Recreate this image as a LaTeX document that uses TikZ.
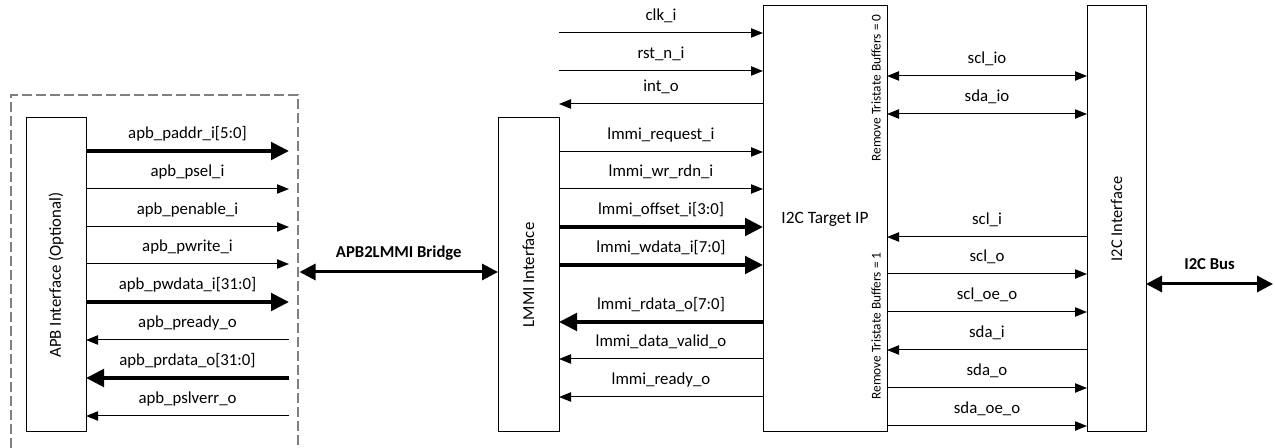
\documentclass[tikz,border=0pt]{standalone}
\usepackage{fontspec}
\setmainfont{Carlito}
\usetikzlibrary{arrows.meta}
\begin{document}
\begin{tikzpicture}[x=0.75pt,y=-0.75pt,
  every node/.style={font=\fontsize{12.6}{14}\selectfont, inner sep=0pt, outer sep=0pt},
  box/.style={draw, line width=0.75pt, rectangle, inner sep=0pt, outer sep=0pt},
  lbl/.style={anchor=base, yshift=9.5pt},
  small/.style={font=\fontsize{10}{12}\selectfont},
  boldlbl/.style={font=\fontsize{12.5}{14}\selectfont\bfseries},
  sigR/.style={-{Triangle[length=9pt,width=7pt]}, line width=0.75pt},
  sigL/.style={{Triangle[length=9pt,width=7pt]}-, line width=0.75pt},
  sigB/.style={{Triangle[length=9pt,width=7pt]}-{Triangle[length=9pt,width=7pt]}, line width=0.75pt},
  busR/.style={-{Triangle[length=13.5pt,width=13pt]}, line width=3pt},
  busL/.style={{Triangle[length=13.5pt,width=13pt]}-, line width=3pt},
  bridge/.style={{Triangle[length=12pt,width=12pt]}-{Triangle[length=12pt,width=12pt]}, line width=2.25pt},
  optbox/.style={draw=black!50, line width=1.1pt, dash pattern=on 7.5pt off 3pt}
]
\useasboundingbox (0,0) rectangle (1275,448);

% dashed optional region (open at the bottom)
\draw[optbox] (11,448) -- (11,95) -- (298,95) -- (298,448);

% boxes
\node[box, minimum width=45pt, minimum height=235.5pt] (apb) at (56,275) {};
\node[rotate=90] (apbt) at (apb.center) {APB Interface (Optional)};
\node[box, minimum width=45.75pt, minimum height=235.5pt] (lmmi) at (528.5,275) {};
\node[rotate=90] (lmmit) at (lmmi.center) {LMMI Interface};
\node[box, minimum width=93pt, minimum height=319.5pt] (tgt) at (825,219) {};
\node[font=\fontsize{13}{15}\selectfont] (tgtt) at (825,219) {I2C Target IP};
\node[box, minimum width=44.25pt, minimum height=319.5pt] (i2c) at (1116.5,219) {};
\node[rotate=90, font=\fontsize{12.3}{14}\selectfont] (i2ct) at (i2c.center) {I2C Interface};

\node[rotate=90, small] (rtb0) at (876,88) {Remove Tristate Buffers = 0};
\node[rotate=90, small] (rtb1) at (876,326) {Remove Tristate Buffers = 1};

% APB signals
\coordinate (apbend) at (289,0);
\foreach \y/\t/\s in {151/apb\_paddr\_i[5:0]/busR, 189/apb\_psel\_i/sigR,
  227/apb\_penable\_i/sigR, 264/apb\_pwrite\_i/sigR, 302/apb\_pwdata\_i[31:0]/busR,
  340/apb\_pready\_o/sigL, 378/apb\_prdata\_o[31:0]/busL, 416/apb\_pslverr\_o/sigL}{
  \coordinate (r) at (0,\y);
  \draw[\s] (apb.east |- r) -- (apbend |- r) node[pos=0.5, lbl] {\t};
}

% LMMI / control signals
\foreach \y/\t/\s in {33/clk\_i/sigR, 71/rst\_n\_i/sigR, 104/int\_o/sigL,
  152/lmmi\_request\_i/sigR, 189/lmmi\_wr\_rdn\_i/sigR, 227/lmmi\_offset\_i[3:0]/busR,
  265/lmmi\_wdata\_i[7:0]/busR, 322/lmmi\_rdata\_o[7:0]/busL,
  359/lmmi\_data\_valid\_o/sigL, 397/lmmi\_ready\_o/sigL}{
  \coordinate (r) at (0,\y);
  \draw[\s] (lmmi.east |- r) -- (tgt.west |- r) node[pos=0.5, lbl] {\t};
}

% I2C signals
\foreach \y/\t/\s in {76/scl\_io/sigB, 114/sda\_io/sigB, 237/scl\_i/sigL,
  274/scl\_o/sigR, 312/scl\_oe\_o/sigR, 350/sda\_i/sigL, 388/sda\_o/sigR,
  426/sda\_oe\_o/sigR}{
  \coordinate (r) at (0,\y);
  \draw[\s] (tgt.east |- r) -- (i2c.west |- r) node[pos=0.5, lbl] {\t};
}

% bridge
\coordinate (optr) at (299.5,272);
\coordinate (br) at (0,272);
\draw[bridge] (optr) -- (lmmi.west |- br) node[pos=0.5, anchor=base, yshift=10.5pt, boldlbl] {APB2LMMI Bridge};

% I2C bus
\coordinate (busend) at (1273,284);
\draw[bridge] (i2c.east |- busend) -- (busend) node[pos=0.5, anchor=base, yshift=11pt, boldlbl] {I2C Bus};
\end{tikzpicture}
\end{document}
